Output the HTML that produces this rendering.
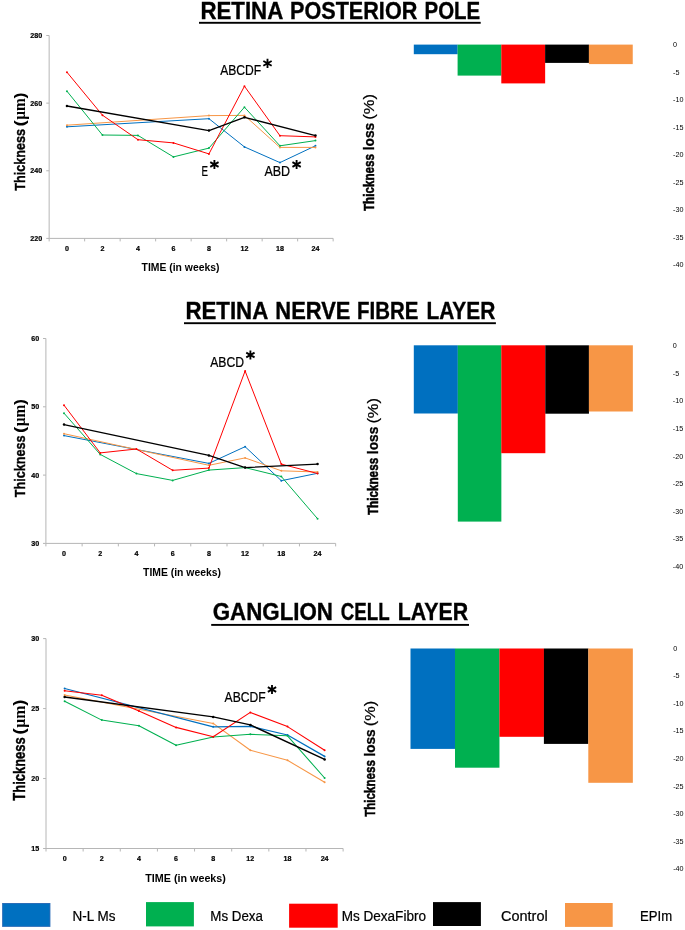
<!DOCTYPE html>
<html><head><meta charset="utf-8"><title>Retina thickness charts</title>
<style>
html,body{margin:0;padding:0;background:#fff;}
body{width:685px;height:930px;overflow:hidden;font-family:"Liberation Sans",sans-serif;}
svg{display:block;will-change:transform;}
</style></head><body>
<svg width="685" height="930" viewBox="0 0 685 930">
<rect width="685" height="930" fill="#ffffff"/>
<text x="200.4" y="19.0" font-family="Liberation Sans, sans-serif" font-size="23.8" font-weight="bold" text-anchor="start" fill="#000" textLength="82.9" lengthAdjust="spacingAndGlyphs" stroke="#000" stroke-width="0.35">RETINA</text>
<text x="290.0" y="19.0" font-family="Liberation Sans, sans-serif" font-size="23.8" font-weight="bold" text-anchor="start" fill="#000" textLength="127.3" lengthAdjust="spacingAndGlyphs" stroke="#000" stroke-width="0.35">POSTERIOR</text>
<text x="424.5" y="19.0" font-family="Liberation Sans, sans-serif" font-size="23.8" font-weight="bold" text-anchor="start" fill="#000" textLength="55.7" lengthAdjust="spacingAndGlyphs" stroke="#000" stroke-width="0.35">POLE</text>
<rect x="199" y="21.85" width="281.7" height="1.9" fill="#000"/>
<path d="M49.15 35.5V238.4H333.15" stroke="#b6b6b6" stroke-width="1" fill="none"/>
<path d="M46.25 35.50H49.15" stroke="#b6b6b6" stroke-width="1"/>
<text x="42.25" y="38.05" font-family="Liberation Sans, sans-serif" font-size="7.4" font-weight="bold" text-anchor="end" fill="#000" textLength="11.94" lengthAdjust="spacingAndGlyphs" stroke="#000" stroke-width="0.22">280</text>
<path d="M46.25 103.13H49.15" stroke="#b6b6b6" stroke-width="1"/>
<text x="42.25" y="105.68" font-family="Liberation Sans, sans-serif" font-size="7.4" font-weight="bold" text-anchor="end" fill="#000" textLength="11.94" lengthAdjust="spacingAndGlyphs" stroke="#000" stroke-width="0.22">260</text>
<path d="M46.25 170.77H49.15" stroke="#b6b6b6" stroke-width="1"/>
<text x="42.25" y="173.32" font-family="Liberation Sans, sans-serif" font-size="7.4" font-weight="bold" text-anchor="end" fill="#000" textLength="11.94" lengthAdjust="spacingAndGlyphs" stroke="#000" stroke-width="0.22">240</text>
<path d="M46.25 238.40H49.15" stroke="#b6b6b6" stroke-width="1"/>
<text x="42.25" y="240.95" font-family="Liberation Sans, sans-serif" font-size="7.4" font-weight="bold" text-anchor="end" fill="#000" textLength="11.94" lengthAdjust="spacingAndGlyphs" stroke="#000" stroke-width="0.22">220</text>
<path d="M49.15 238.4V241.4" stroke="#b6b6b6" stroke-width="1"/>
<path d="M84.65 238.4V241.4" stroke="#b6b6b6" stroke-width="1"/>
<path d="M120.15 238.4V241.4" stroke="#b6b6b6" stroke-width="1"/>
<path d="M155.65 238.4V241.4" stroke="#b6b6b6" stroke-width="1"/>
<path d="M191.15 238.4V241.4" stroke="#b6b6b6" stroke-width="1"/>
<path d="M226.65 238.4V241.4" stroke="#b6b6b6" stroke-width="1"/>
<path d="M262.15 238.4V241.4" stroke="#b6b6b6" stroke-width="1"/>
<path d="M297.65 238.4V241.4" stroke="#b6b6b6" stroke-width="1"/>
<path d="M333.15 238.4V241.4" stroke="#b6b6b6" stroke-width="1"/>
<text x="66.95" y="250.95" font-family="Liberation Sans, sans-serif" font-size="7.4" font-weight="bold" text-anchor="middle" fill="#000" textLength="3.98" lengthAdjust="spacingAndGlyphs" stroke="#000" stroke-width="0.22">0</text>
<text x="102.45" y="250.95" font-family="Liberation Sans, sans-serif" font-size="7.4" font-weight="bold" text-anchor="middle" fill="#000" textLength="3.98" lengthAdjust="spacingAndGlyphs" stroke="#000" stroke-width="0.22">2</text>
<text x="137.95" y="250.95" font-family="Liberation Sans, sans-serif" font-size="7.4" font-weight="bold" text-anchor="middle" fill="#000" textLength="3.98" lengthAdjust="spacingAndGlyphs" stroke="#000" stroke-width="0.22">4</text>
<text x="173.45" y="250.95" font-family="Liberation Sans, sans-serif" font-size="7.4" font-weight="bold" text-anchor="middle" fill="#000" textLength="3.98" lengthAdjust="spacingAndGlyphs" stroke="#000" stroke-width="0.22">6</text>
<text x="208.95" y="250.95" font-family="Liberation Sans, sans-serif" font-size="7.4" font-weight="bold" text-anchor="middle" fill="#000" textLength="3.98" lengthAdjust="spacingAndGlyphs" stroke="#000" stroke-width="0.22">8</text>
<text x="244.45" y="250.95" font-family="Liberation Sans, sans-serif" font-size="7.4" font-weight="bold" text-anchor="middle" fill="#000" textLength="7.96" lengthAdjust="spacingAndGlyphs" stroke="#000" stroke-width="0.22">12</text>
<text x="279.95" y="250.95" font-family="Liberation Sans, sans-serif" font-size="7.4" font-weight="bold" text-anchor="middle" fill="#000" textLength="7.96" lengthAdjust="spacingAndGlyphs" stroke="#000" stroke-width="0.22">18</text>
<text x="315.45" y="250.95" font-family="Liberation Sans, sans-serif" font-size="7.4" font-weight="bold" text-anchor="middle" fill="#000" textLength="7.96" lengthAdjust="spacingAndGlyphs" stroke="#000" stroke-width="0.22">24</text>
<text x="141.6" y="270.6" font-family="Liberation Sans, sans-serif" font-size="10.7" font-weight="bold" text-anchor="start" fill="#000" textLength="77.9" lengthAdjust="spacingAndGlyphs">TIME (in weeks)</text>
<g transform="translate(24.9 190.3) rotate(-90)" font-weight="bold" font-size="15.38">
<text x="-0.40" y="0" font-family="Liberation Sans, sans-serif" stroke="#000" stroke-width="0.4" textLength="61.64" lengthAdjust="spacingAndGlyphs">Thickness</text>
<text x="63.83" y="0" font-family="Liberation Sans, sans-serif" textLength="6.39" lengthAdjust="spacingAndGlyphs">(</text>
<text x="70.53" y="0" font-family="Liberation Serif, serif" font-size="16.15" textLength="21.58" lengthAdjust="spacingAndGlyphs">µm</text>
<text x="91.91" y="0" font-family="Liberation Sans, sans-serif" textLength="5.99" lengthAdjust="spacingAndGlyphs">)</text>
</g>
<path d="M66.95 126.8L208.95 118.7L244.45 146.9L279.95 162.6L315.45 145.8" stroke="#0070C0" stroke-width="1.0" fill="none" stroke-linejoin="round"/>
<circle cx="66.95" cy="126.8" r="1.0" fill="#0070C0"/>
<circle cx="208.95" cy="118.7" r="1.0" fill="#0070C0"/>
<circle cx="244.45" cy="146.9" r="1.0" fill="#0070C0"/>
<circle cx="279.95" cy="162.6" r="1.0" fill="#0070C0"/>
<circle cx="315.45" cy="145.8" r="1.0" fill="#0070C0"/>
<path d="M66.95 125.2L208.95 115.6L244.45 115.4L279.95 147.4L315.45 147.4" stroke="#F79646" stroke-width="1.0" fill="none" stroke-linejoin="round"/>
<circle cx="66.95" cy="125.2" r="1.0" fill="#F79646"/>
<circle cx="208.95" cy="115.6" r="1.0" fill="#F79646"/>
<circle cx="244.45" cy="115.4" r="1.0" fill="#F79646"/>
<circle cx="279.95" cy="147.4" r="1.0" fill="#F79646"/>
<circle cx="315.45" cy="147.4" r="1.0" fill="#F79646"/>
<path d="M66.95 91.2L102.45 135.0L137.95 135.4L173.45 156.9L208.95 148.1L244.45 107.2L279.95 145.8L315.45 140.6" stroke="#00B050" stroke-width="1.0" fill="none" stroke-linejoin="round"/>
<circle cx="66.95" cy="91.2" r="1.0" fill="#00B050"/>
<circle cx="102.45" cy="135.0" r="1.0" fill="#00B050"/>
<circle cx="137.95" cy="135.4" r="1.0" fill="#00B050"/>
<circle cx="173.45" cy="156.9" r="1.0" fill="#00B050"/>
<circle cx="208.95" cy="148.1" r="1.0" fill="#00B050"/>
<circle cx="244.45" cy="107.2" r="1.0" fill="#00B050"/>
<circle cx="279.95" cy="145.8" r="1.0" fill="#00B050"/>
<circle cx="315.45" cy="140.6" r="1.0" fill="#00B050"/>
<path d="M66.95 72.2L102.45 115.2L137.95 139.7L173.45 142.9L208.95 153.9L244.45 86.2L279.95 135.7L315.45 136.9" stroke="#FF0000" stroke-width="1.0" fill="none" stroke-linejoin="round"/>
<circle cx="66.95" cy="72.2" r="1.0" fill="#FF0000"/>
<circle cx="102.45" cy="115.2" r="1.0" fill="#FF0000"/>
<circle cx="137.95" cy="139.7" r="1.0" fill="#FF0000"/>
<circle cx="173.45" cy="142.9" r="1.0" fill="#FF0000"/>
<circle cx="208.95" cy="153.9" r="1.0" fill="#FF0000"/>
<circle cx="244.45" cy="86.2" r="1.0" fill="#FF0000"/>
<circle cx="279.95" cy="135.7" r="1.0" fill="#FF0000"/>
<circle cx="315.45" cy="136.9" r="1.0" fill="#FF0000"/>
<path d="M66.95 106.0L208.95 130.6L244.45 117.3L315.45 135.6" stroke="#000000" stroke-width="1.3" fill="none" stroke-linejoin="round"/>
<circle cx="66.95" cy="106.0" r="1.25" fill="#000000"/>
<circle cx="208.95" cy="130.6" r="1.25" fill="#000000"/>
<circle cx="244.45" cy="117.3" r="1.25" fill="#000000"/>
<circle cx="315.45" cy="135.6" r="1.25" fill="#000000"/>
<text x="220.2" y="74.9" font-family="Liberation Sans, sans-serif" font-size="13.8" font-weight="normal" text-anchor="start" fill="#000" textLength="41.0" lengthAdjust="spacingAndGlyphs" stroke="#000" stroke-width="0.22">ABCDF</text>
<path d="M267.50 58.85L267.50 67.95M263.34 61.00L271.66 65.80M271.66 61.00L263.34 65.80" stroke="#000" stroke-width="1.85" fill="none" stroke-linecap="butt"/>
<text x="201.5" y="175.9" font-family="Liberation Sans, sans-serif" font-size="13.8" font-weight="normal" text-anchor="start" fill="#000" textLength="6.5" lengthAdjust="spacingAndGlyphs" stroke="#000" stroke-width="0.22">E</text>
<path d="M214.40 159.95L214.40 169.05M210.24 162.10L218.56 166.90M218.56 162.10L210.24 166.90" stroke="#000" stroke-width="1.85" fill="none" stroke-linecap="butt"/>
<text x="264.4" y="175.9" font-family="Liberation Sans, sans-serif" font-size="13.8" font-weight="normal" text-anchor="start" fill="#000" textLength="25.7" lengthAdjust="spacingAndGlyphs" stroke="#000" stroke-width="0.22">ABD</text>
<path d="M296.60 159.95L296.60 169.05M292.44 162.10L300.76 166.90M300.76 162.10L292.44 166.90" stroke="#000" stroke-width="1.85" fill="none" stroke-linecap="butt"/>
<rect x="413.8" y="44.6" width="43.85" height="9.6" fill="#0070C0"/>
<rect x="457.6" y="44.6" width="43.75" height="31.0" fill="#00B050"/>
<rect x="501.3" y="44.6" width="43.85" height="38.8" fill="#FF0000"/>
<rect x="545.1" y="44.6" width="43.85" height="18.3" fill="#000000"/>
<rect x="588.9" y="44.6" width="43.85" height="19.5" fill="#F79646"/>
<text x="673" y="47.0" font-family="Liberation Sans, sans-serif" font-size="7.2" font-weight="normal" text-anchor="start" fill="#000">0</text>
<text x="673" y="74.52" font-family="Liberation Sans, sans-serif" font-size="7.2" font-weight="normal" text-anchor="start" fill="#000">-5</text>
<text x="673" y="102.04" font-family="Liberation Sans, sans-serif" font-size="7.2" font-weight="normal" text-anchor="start" fill="#000">-10</text>
<text x="673" y="129.56" font-family="Liberation Sans, sans-serif" font-size="7.2" font-weight="normal" text-anchor="start" fill="#000">-15</text>
<text x="673" y="157.08" font-family="Liberation Sans, sans-serif" font-size="7.2" font-weight="normal" text-anchor="start" fill="#000">-20</text>
<text x="673" y="184.6" font-family="Liberation Sans, sans-serif" font-size="7.2" font-weight="normal" text-anchor="start" fill="#000">-25</text>
<text x="673" y="212.12" font-family="Liberation Sans, sans-serif" font-size="7.2" font-weight="normal" text-anchor="start" fill="#000">-30</text>
<text x="673" y="239.64" font-family="Liberation Sans, sans-serif" font-size="7.2" font-weight="normal" text-anchor="start" fill="#000">-35</text>
<text x="673" y="267.16" font-family="Liberation Sans, sans-serif" font-size="7.2" font-weight="normal" text-anchor="start" fill="#000">-40</text>
<g transform="translate(374.0 210.7) rotate(-90)" font-family="Liberation Sans, sans-serif" font-size="14.2">
<text x="-0.40" y="0" font-weight="bold" stroke="#000" stroke-width="0.5" textLength="57.20" lengthAdjust="spacingAndGlyphs">Thickness</text>
<text x="60.50" y="0" font-weight="bold" stroke="#000" stroke-width="0.3" textLength="27.40" lengthAdjust="spacingAndGlyphs">loss</text>
<text x="91.00" y="0" stroke="#000" stroke-width="0.2" textLength="25.60" lengthAdjust="spacingAndGlyphs">(%)</text>
</g>
<text x="185.4" y="318.8" font-family="Liberation Sans, sans-serif" font-size="23.8" font-weight="bold" text-anchor="start" fill="#000" textLength="82.9" lengthAdjust="spacingAndGlyphs" stroke="#000" stroke-width="0.35">RETINA</text>
<text x="275.29999999999995" y="318.8" font-family="Liberation Sans, sans-serif" font-size="23.8" font-weight="bold" text-anchor="start" fill="#000" textLength="75.2" lengthAdjust="spacingAndGlyphs" stroke="#000" stroke-width="0.35">NERVE</text>
<text x="357.0" y="318.8" font-family="Liberation Sans, sans-serif" font-size="23.8" font-weight="bold" text-anchor="start" fill="#000" textLength="61.3" lengthAdjust="spacingAndGlyphs" stroke="#000" stroke-width="0.35">FIBRE</text>
<text x="426.4" y="318.8" font-family="Liberation Sans, sans-serif" font-size="23.8" font-weight="bold" text-anchor="start" fill="#000" textLength="68.9" lengthAdjust="spacingAndGlyphs" stroke="#000" stroke-width="0.35">LAYER</text>
<rect x="184" y="322.25" width="311.9" height="1.9" fill="#000"/>
<path d="M45.9 338.5V543.4H335.65999999999997" stroke="#b6b6b6" stroke-width="1" fill="none"/>
<path d="M43.0 338.50H45.9" stroke="#b6b6b6" stroke-width="1"/>
<text x="39.2" y="341.05" font-family="Liberation Sans, sans-serif" font-size="7.4" font-weight="bold" text-anchor="end" fill="#000" textLength="7.96" lengthAdjust="spacingAndGlyphs" stroke="#000" stroke-width="0.22">60</text>
<path d="M43.0 406.80H45.9" stroke="#b6b6b6" stroke-width="1"/>
<text x="39.2" y="409.35" font-family="Liberation Sans, sans-serif" font-size="7.4" font-weight="bold" text-anchor="end" fill="#000" textLength="7.96" lengthAdjust="spacingAndGlyphs" stroke="#000" stroke-width="0.22">50</text>
<path d="M43.0 475.10H45.9" stroke="#b6b6b6" stroke-width="1"/>
<text x="39.2" y="477.65" font-family="Liberation Sans, sans-serif" font-size="7.4" font-weight="bold" text-anchor="end" fill="#000" textLength="7.96" lengthAdjust="spacingAndGlyphs" stroke="#000" stroke-width="0.22">40</text>
<path d="M43.0 543.40H45.9" stroke="#b6b6b6" stroke-width="1"/>
<text x="39.2" y="545.95" font-family="Liberation Sans, sans-serif" font-size="7.4" font-weight="bold" text-anchor="end" fill="#000" textLength="7.96" lengthAdjust="spacingAndGlyphs" stroke="#000" stroke-width="0.22">30</text>
<path d="M45.90 543.4V546.4" stroke="#b6b6b6" stroke-width="1"/>
<path d="M82.12 543.4V546.4" stroke="#b6b6b6" stroke-width="1"/>
<path d="M118.34 543.4V546.4" stroke="#b6b6b6" stroke-width="1"/>
<path d="M154.56 543.4V546.4" stroke="#b6b6b6" stroke-width="1"/>
<path d="M190.78 543.4V546.4" stroke="#b6b6b6" stroke-width="1"/>
<path d="M227.00 543.4V546.4" stroke="#b6b6b6" stroke-width="1"/>
<path d="M263.22 543.4V546.4" stroke="#b6b6b6" stroke-width="1"/>
<path d="M299.44 543.4V546.4" stroke="#b6b6b6" stroke-width="1"/>
<path d="M335.66 543.4V546.4" stroke="#b6b6b6" stroke-width="1"/>
<text x="64.0" y="555.75" font-family="Liberation Sans, sans-serif" font-size="7.4" font-weight="bold" text-anchor="middle" fill="#000" textLength="3.98" lengthAdjust="spacingAndGlyphs" stroke="#000" stroke-width="0.22">0</text>
<text x="100.22" y="555.75" font-family="Liberation Sans, sans-serif" font-size="7.4" font-weight="bold" text-anchor="middle" fill="#000" textLength="3.98" lengthAdjust="spacingAndGlyphs" stroke="#000" stroke-width="0.22">2</text>
<text x="136.44" y="555.75" font-family="Liberation Sans, sans-serif" font-size="7.4" font-weight="bold" text-anchor="middle" fill="#000" textLength="3.98" lengthAdjust="spacingAndGlyphs" stroke="#000" stroke-width="0.22">4</text>
<text x="172.66" y="555.75" font-family="Liberation Sans, sans-serif" font-size="7.4" font-weight="bold" text-anchor="middle" fill="#000" textLength="3.98" lengthAdjust="spacingAndGlyphs" stroke="#000" stroke-width="0.22">6</text>
<text x="208.88" y="555.75" font-family="Liberation Sans, sans-serif" font-size="7.4" font-weight="bold" text-anchor="middle" fill="#000" textLength="3.98" lengthAdjust="spacingAndGlyphs" stroke="#000" stroke-width="0.22">8</text>
<text x="245.1" y="555.75" font-family="Liberation Sans, sans-serif" font-size="7.4" font-weight="bold" text-anchor="middle" fill="#000" textLength="7.96" lengthAdjust="spacingAndGlyphs" stroke="#000" stroke-width="0.22">12</text>
<text x="281.32" y="555.75" font-family="Liberation Sans, sans-serif" font-size="7.4" font-weight="bold" text-anchor="middle" fill="#000" textLength="7.96" lengthAdjust="spacingAndGlyphs" stroke="#000" stroke-width="0.22">18</text>
<text x="317.54" y="555.75" font-family="Liberation Sans, sans-serif" font-size="7.4" font-weight="bold" text-anchor="middle" fill="#000" textLength="7.96" lengthAdjust="spacingAndGlyphs" stroke="#000" stroke-width="0.22">24</text>
<text x="143.1" y="576.2" font-family="Liberation Sans, sans-serif" font-size="10.7" font-weight="bold" text-anchor="start" fill="#000" textLength="77.9" lengthAdjust="spacingAndGlyphs">TIME (in weeks)</text>
<g transform="translate(25.2 496.8) rotate(-90)" font-weight="bold" font-size="15.38">
<text x="-0.40" y="0" font-family="Liberation Sans, sans-serif" stroke="#000" stroke-width="0.4" textLength="61.64" lengthAdjust="spacingAndGlyphs">Thickness</text>
<text x="63.83" y="0" font-family="Liberation Sans, sans-serif" textLength="6.39" lengthAdjust="spacingAndGlyphs">(</text>
<text x="70.53" y="0" font-family="Liberation Serif, serif" font-size="16.15" textLength="21.58" lengthAdjust="spacingAndGlyphs">µm</text>
<text x="91.91" y="0" font-family="Liberation Sans, sans-serif" textLength="5.99" lengthAdjust="spacingAndGlyphs">)</text>
</g>
<path d="M64.00 435.6L208.88 463.4L245.10 446.7L281.32 480.7L317.54 473.3" stroke="#0070C0" stroke-width="1.0" fill="none" stroke-linejoin="round"/>
<circle cx="64.00" cy="435.6" r="1.0" fill="#0070C0"/>
<circle cx="208.88" cy="463.4" r="1.0" fill="#0070C0"/>
<circle cx="245.10" cy="446.7" r="1.0" fill="#0070C0"/>
<circle cx="281.32" cy="480.7" r="1.0" fill="#0070C0"/>
<circle cx="317.54" cy="473.3" r="1.0" fill="#0070C0"/>
<path d="M64.00 433.7L208.88 465.3L245.10 457.9L281.32 470.8L317.54 472.0" stroke="#F79646" stroke-width="1.0" fill="none" stroke-linejoin="round"/>
<circle cx="64.00" cy="433.7" r="1.0" fill="#F79646"/>
<circle cx="208.88" cy="465.3" r="1.0" fill="#F79646"/>
<circle cx="245.10" cy="457.9" r="1.0" fill="#F79646"/>
<circle cx="281.32" cy="470.8" r="1.0" fill="#F79646"/>
<circle cx="317.54" cy="472.0" r="1.0" fill="#F79646"/>
<path d="M64.00 413.2L100.22 454.4L136.44 473.6L172.66 480.4L208.88 470.1L245.10 467.6L281.32 476.5L317.54 518.7" stroke="#00B050" stroke-width="1.0" fill="none" stroke-linejoin="round"/>
<circle cx="64.00" cy="413.2" r="1.0" fill="#00B050"/>
<circle cx="100.22" cy="454.4" r="1.0" fill="#00B050"/>
<circle cx="136.44" cy="473.6" r="1.0" fill="#00B050"/>
<circle cx="172.66" cy="480.4" r="1.0" fill="#00B050"/>
<circle cx="208.88" cy="470.1" r="1.0" fill="#00B050"/>
<circle cx="245.10" cy="467.6" r="1.0" fill="#00B050"/>
<circle cx="281.32" cy="476.5" r="1.0" fill="#00B050"/>
<circle cx="317.54" cy="518.7" r="1.0" fill="#00B050"/>
<path d="M64.00 405.2L100.22 452.9L136.44 449.0L172.66 470.3L208.88 468.1L245.10 371.0L281.32 464.1L317.54 473.5" stroke="#FF0000" stroke-width="1.0" fill="none" stroke-linejoin="round"/>
<circle cx="64.00" cy="405.2" r="1.0" fill="#FF0000"/>
<circle cx="100.22" cy="452.9" r="1.0" fill="#FF0000"/>
<circle cx="136.44" cy="449.0" r="1.0" fill="#FF0000"/>
<circle cx="172.66" cy="470.3" r="1.0" fill="#FF0000"/>
<circle cx="208.88" cy="468.1" r="1.0" fill="#FF0000"/>
<circle cx="245.10" cy="371.0" r="1.0" fill="#FF0000"/>
<circle cx="281.32" cy="464.1" r="1.0" fill="#FF0000"/>
<circle cx="317.54" cy="473.5" r="1.0" fill="#FF0000"/>
<path d="M64.00 424.6L208.88 455.4L245.10 467.6L317.54 464.1" stroke="#000000" stroke-width="1.3" fill="none" stroke-linejoin="round"/>
<circle cx="64.00" cy="424.6" r="1.25" fill="#000000"/>
<circle cx="208.88" cy="455.4" r="1.25" fill="#000000"/>
<circle cx="245.10" cy="467.6" r="1.25" fill="#000000"/>
<circle cx="317.54" cy="464.1" r="1.25" fill="#000000"/>
<text x="210.2" y="366.8" font-family="Liberation Sans, sans-serif" font-size="13.8" font-weight="normal" text-anchor="start" fill="#000" textLength="33.8" lengthAdjust="spacingAndGlyphs" stroke="#000" stroke-width="0.22">ABCD</text>
<path d="M250.40 350.45L250.40 359.55M246.24 352.60L254.56 357.40M254.56 352.60L246.24 357.40" stroke="#000" stroke-width="1.85" fill="none" stroke-linecap="butt"/>
<rect x="413.8" y="345.3" width="44.05" height="68.2" fill="#0070C0"/>
<rect x="457.8" y="345.3" width="43.55" height="176.3" fill="#00B050"/>
<rect x="501.3" y="345.3" width="44.05" height="107.9" fill="#FF0000"/>
<rect x="545.3" y="345.3" width="43.65" height="68.4" fill="#000000"/>
<rect x="588.9" y="345.3" width="43.95" height="66.2" fill="#F79646"/>
<text x="672.8" y="348.0" font-family="Liberation Sans, sans-serif" font-size="7.2" font-weight="normal" text-anchor="start" fill="#000">0</text>
<text x="672.8" y="375.64" font-family="Liberation Sans, sans-serif" font-size="7.2" font-weight="normal" text-anchor="start" fill="#000">-5</text>
<text x="672.8" y="403.28" font-family="Liberation Sans, sans-serif" font-size="7.2" font-weight="normal" text-anchor="start" fill="#000">-10</text>
<text x="672.8" y="430.92" font-family="Liberation Sans, sans-serif" font-size="7.2" font-weight="normal" text-anchor="start" fill="#000">-15</text>
<text x="672.8" y="458.56" font-family="Liberation Sans, sans-serif" font-size="7.2" font-weight="normal" text-anchor="start" fill="#000">-20</text>
<text x="672.8" y="486.2" font-family="Liberation Sans, sans-serif" font-size="7.2" font-weight="normal" text-anchor="start" fill="#000">-25</text>
<text x="672.8" y="513.84" font-family="Liberation Sans, sans-serif" font-size="7.2" font-weight="normal" text-anchor="start" fill="#000">-30</text>
<text x="672.8" y="541.48" font-family="Liberation Sans, sans-serif" font-size="7.2" font-weight="normal" text-anchor="start" fill="#000">-35</text>
<text x="672.8" y="569.12" font-family="Liberation Sans, sans-serif" font-size="7.2" font-weight="normal" text-anchor="start" fill="#000">-40</text>
<g transform="translate(378.0 514.7) rotate(-90)" font-family="Liberation Sans, sans-serif" font-size="14.21">
<text x="-0.40" y="0" font-weight="bold" stroke="#000" stroke-width="0.5" textLength="57.25" lengthAdjust="spacingAndGlyphs">Thickness</text>
<text x="60.55" y="0" font-weight="bold" stroke="#000" stroke-width="0.3" textLength="27.42" lengthAdjust="spacingAndGlyphs">loss</text>
<text x="91.08" y="0" stroke="#000" stroke-width="0.2" textLength="25.62" lengthAdjust="spacingAndGlyphs">(%)</text>
</g>
<text x="212.70000000000002" y="620.1" font-family="Liberation Sans, sans-serif" font-size="23.8" font-weight="bold" text-anchor="start" fill="#000" textLength="120.3" lengthAdjust="spacingAndGlyphs" stroke="#000" stroke-width="0.35">GANGLION</text>
<text x="340.79999999999995" y="620.1" font-family="Liberation Sans, sans-serif" font-size="23.8" font-weight="bold" text-anchor="start" fill="#000" textLength="48.9" lengthAdjust="spacingAndGlyphs" stroke="#000" stroke-width="0.35">CELL</text>
<text x="397.7" y="620.1" font-family="Liberation Sans, sans-serif" font-size="23.8" font-weight="bold" text-anchor="start" fill="#000" textLength="70.4" lengthAdjust="spacingAndGlyphs" stroke="#000" stroke-width="0.35">LAYER</text>
<rect x="211.2" y="623.9499999999999" width="257.8" height="1.9" fill="#000"/>
<path d="M46.0 638.6V848.5H343.12" stroke="#b6b6b6" stroke-width="1" fill="none"/>
<path d="M43.1 638.60H46.0" stroke="#b6b6b6" stroke-width="1"/>
<text x="39.2" y="641.15" font-family="Liberation Sans, sans-serif" font-size="7.4" font-weight="bold" text-anchor="end" fill="#000" textLength="7.96" lengthAdjust="spacingAndGlyphs" stroke="#000" stroke-width="0.22">30</text>
<path d="M43.1 708.57H46.0" stroke="#b6b6b6" stroke-width="1"/>
<text x="39.2" y="711.12" font-family="Liberation Sans, sans-serif" font-size="7.4" font-weight="bold" text-anchor="end" fill="#000" textLength="7.96" lengthAdjust="spacingAndGlyphs" stroke="#000" stroke-width="0.22">25</text>
<path d="M43.1 778.53H46.0" stroke="#b6b6b6" stroke-width="1"/>
<text x="39.2" y="781.08" font-family="Liberation Sans, sans-serif" font-size="7.4" font-weight="bold" text-anchor="end" fill="#000" textLength="7.96" lengthAdjust="spacingAndGlyphs" stroke="#000" stroke-width="0.22">20</text>
<path d="M43.1 848.50H46.0" stroke="#b6b6b6" stroke-width="1"/>
<text x="39.2" y="851.05" font-family="Liberation Sans, sans-serif" font-size="7.4" font-weight="bold" text-anchor="end" fill="#000" textLength="7.96" lengthAdjust="spacingAndGlyphs" stroke="#000" stroke-width="0.22">15</text>
<path d="M46.00 848.5V851.5" stroke="#b6b6b6" stroke-width="1"/>
<path d="M83.14 848.5V851.5" stroke="#b6b6b6" stroke-width="1"/>
<path d="M120.28 848.5V851.5" stroke="#b6b6b6" stroke-width="1"/>
<path d="M157.42 848.5V851.5" stroke="#b6b6b6" stroke-width="1"/>
<path d="M194.56 848.5V851.5" stroke="#b6b6b6" stroke-width="1"/>
<path d="M231.70 848.5V851.5" stroke="#b6b6b6" stroke-width="1"/>
<path d="M268.84 848.5V851.5" stroke="#b6b6b6" stroke-width="1"/>
<path d="M305.98 848.5V851.5" stroke="#b6b6b6" stroke-width="1"/>
<path d="M343.12 848.5V851.5" stroke="#b6b6b6" stroke-width="1"/>
<text x="64.65" y="861.25" font-family="Liberation Sans, sans-serif" font-size="7.4" font-weight="bold" text-anchor="middle" fill="#000" textLength="3.98" lengthAdjust="spacingAndGlyphs" stroke="#000" stroke-width="0.22">0</text>
<text x="101.79" y="861.25" font-family="Liberation Sans, sans-serif" font-size="7.4" font-weight="bold" text-anchor="middle" fill="#000" textLength="3.98" lengthAdjust="spacingAndGlyphs" stroke="#000" stroke-width="0.22">2</text>
<text x="138.93" y="861.25" font-family="Liberation Sans, sans-serif" font-size="7.4" font-weight="bold" text-anchor="middle" fill="#000" textLength="3.98" lengthAdjust="spacingAndGlyphs" stroke="#000" stroke-width="0.22">4</text>
<text x="176.07" y="861.25" font-family="Liberation Sans, sans-serif" font-size="7.4" font-weight="bold" text-anchor="middle" fill="#000" textLength="3.98" lengthAdjust="spacingAndGlyphs" stroke="#000" stroke-width="0.22">6</text>
<text x="213.21" y="861.25" font-family="Liberation Sans, sans-serif" font-size="7.4" font-weight="bold" text-anchor="middle" fill="#000" textLength="3.98" lengthAdjust="spacingAndGlyphs" stroke="#000" stroke-width="0.22">8</text>
<text x="250.35" y="861.25" font-family="Liberation Sans, sans-serif" font-size="7.4" font-weight="bold" text-anchor="middle" fill="#000" textLength="7.96" lengthAdjust="spacingAndGlyphs" stroke="#000" stroke-width="0.22">12</text>
<text x="287.49" y="861.25" font-family="Liberation Sans, sans-serif" font-size="7.4" font-weight="bold" text-anchor="middle" fill="#000" textLength="7.96" lengthAdjust="spacingAndGlyphs" stroke="#000" stroke-width="0.22">18</text>
<text x="324.63" y="861.25" font-family="Liberation Sans, sans-serif" font-size="7.4" font-weight="bold" text-anchor="middle" fill="#000" textLength="7.96" lengthAdjust="spacingAndGlyphs" stroke="#000" stroke-width="0.22">24</text>
<text x="145.3" y="882.0" font-family="Liberation Sans, sans-serif" font-size="10.7" font-weight="bold" text-anchor="start" fill="#000" textLength="80.6" lengthAdjust="spacingAndGlyphs">TIME (in weeks)</text>
<g transform="translate(24.9 800.3) rotate(-90)" font-weight="bold" font-size="15.83">
<text x="-0.41" y="0" font-family="Liberation Sans, sans-serif" stroke="#000" stroke-width="0.4" textLength="63.41" lengthAdjust="spacingAndGlyphs">Thickness</text>
<text x="65.67" y="0" font-family="Liberation Sans, sans-serif" textLength="6.58" lengthAdjust="spacingAndGlyphs">(</text>
<text x="72.56" y="0" font-family="Liberation Serif, serif" font-size="16.62" textLength="22.20" lengthAdjust="spacingAndGlyphs">µm</text>
<text x="94.55" y="0" font-family="Liberation Sans, sans-serif" textLength="6.17" lengthAdjust="spacingAndGlyphs">)</text>
</g>
<path d="M64.65 695.0L213.21 723.4L250.35 750.2L287.49 760.3L324.63 782.2" stroke="#F79646" stroke-width="1.05" fill="none" stroke-linejoin="round"/>
<circle cx="64.65" cy="695.0" r="1.0" fill="#F79646"/>
<circle cx="213.21" cy="723.4" r="1.0" fill="#F79646"/>
<circle cx="250.35" cy="750.2" r="1.0" fill="#F79646"/>
<circle cx="287.49" cy="760.3" r="1.0" fill="#F79646"/>
<circle cx="324.63" cy="782.2" r="1.0" fill="#F79646"/>
<path d="M64.65 688.5L213.21 726.8L250.35 726.3L287.49 735.0L324.63 756.4" stroke="#0070C0" stroke-width="1.25" fill="none" stroke-linejoin="round"/>
<circle cx="64.65" cy="688.5" r="1.0" fill="#0070C0"/>
<circle cx="213.21" cy="726.8" r="1.0" fill="#0070C0"/>
<circle cx="250.35" cy="726.3" r="1.0" fill="#0070C0"/>
<circle cx="287.49" cy="735.0" r="1.0" fill="#0070C0"/>
<circle cx="324.63" cy="756.4" r="1.0" fill="#0070C0"/>
<path d="M64.65 701.2L101.79 720.1L138.93 725.8L176.07 745.3L213.21 737.0L250.35 734.3L287.49 735.8L324.63 778.0" stroke="#00B050" stroke-width="1.05" fill="none" stroke-linejoin="round"/>
<circle cx="64.65" cy="701.2" r="1.0" fill="#00B050"/>
<circle cx="101.79" cy="720.1" r="1.0" fill="#00B050"/>
<circle cx="138.93" cy="725.8" r="1.0" fill="#00B050"/>
<circle cx="176.07" cy="745.3" r="1.0" fill="#00B050"/>
<circle cx="213.21" cy="737.0" r="1.0" fill="#00B050"/>
<circle cx="250.35" cy="734.3" r="1.0" fill="#00B050"/>
<circle cx="287.49" cy="735.8" r="1.0" fill="#00B050"/>
<circle cx="324.63" cy="778.0" r="1.0" fill="#00B050"/>
<path d="M64.65 690.8L101.79 695.2L138.93 710.9L176.07 727.4L213.21 736.8L250.35 712.4L287.49 726.6L324.63 750.2" stroke="#FF0000" stroke-width="1.1" fill="none" stroke-linejoin="round"/>
<circle cx="64.65" cy="690.8" r="1.0" fill="#FF0000"/>
<circle cx="101.79" cy="695.2" r="1.0" fill="#FF0000"/>
<circle cx="138.93" cy="710.9" r="1.0" fill="#FF0000"/>
<circle cx="176.07" cy="727.4" r="1.0" fill="#FF0000"/>
<circle cx="213.21" cy="736.8" r="1.0" fill="#FF0000"/>
<circle cx="250.35" cy="712.4" r="1.0" fill="#FF0000"/>
<circle cx="287.49" cy="726.6" r="1.0" fill="#FF0000"/>
<circle cx="324.63" cy="750.2" r="1.0" fill="#FF0000"/>
<path d="M64.65 697.0L213.21 716.9L250.35 724.9L324.63 759.4" stroke="#000000" stroke-width="1.45" fill="none" stroke-linejoin="round"/>
<circle cx="64.65" cy="697.0" r="1.25" fill="#000000"/>
<circle cx="213.21" cy="716.9" r="1.25" fill="#000000"/>
<circle cx="250.35" cy="724.9" r="1.25" fill="#000000"/>
<circle cx="324.63" cy="759.4" r="1.25" fill="#000000"/>
<text x="224.6" y="701.5" font-family="Liberation Sans, sans-serif" font-size="13.8" font-weight="normal" text-anchor="start" fill="#000" textLength="41.0" lengthAdjust="spacingAndGlyphs" stroke="#000" stroke-width="0.22">ABCDF</text>
<path d="M272.00 684.95L272.00 694.05M267.84 687.10L276.16 691.90M276.16 687.10L267.84 691.90" stroke="#000" stroke-width="1.85" fill="none" stroke-linecap="butt"/>
<rect x="410.5" y="648.5" width="44.55" height="100.4" fill="#0070C0"/>
<rect x="455.0" y="648.5" width="44.45" height="119.2" fill="#00B050"/>
<rect x="499.4" y="648.5" width="44.55" height="88.3" fill="#FF0000"/>
<rect x="543.9" y="648.5" width="44.45" height="95.4" fill="#000000"/>
<rect x="588.3" y="648.5" width="44.55" height="134.3" fill="#F79646"/>
<text x="673.2" y="650.9" font-family="Liberation Sans, sans-serif" font-size="7.2" font-weight="normal" text-anchor="start" fill="#000">0</text>
<text x="673.2" y="678.42" font-family="Liberation Sans, sans-serif" font-size="7.2" font-weight="normal" text-anchor="start" fill="#000">-5</text>
<text x="673.2" y="705.94" font-family="Liberation Sans, sans-serif" font-size="7.2" font-weight="normal" text-anchor="start" fill="#000">-10</text>
<text x="673.2" y="733.46" font-family="Liberation Sans, sans-serif" font-size="7.2" font-weight="normal" text-anchor="start" fill="#000">-15</text>
<text x="673.2" y="760.98" font-family="Liberation Sans, sans-serif" font-size="7.2" font-weight="normal" text-anchor="start" fill="#000">-20</text>
<text x="673.2" y="788.5" font-family="Liberation Sans, sans-serif" font-size="7.2" font-weight="normal" text-anchor="start" fill="#000">-25</text>
<text x="673.2" y="816.02" font-family="Liberation Sans, sans-serif" font-size="7.2" font-weight="normal" text-anchor="start" fill="#000">-30</text>
<text x="673.2" y="843.54" font-family="Liberation Sans, sans-serif" font-size="7.2" font-weight="normal" text-anchor="start" fill="#000">-35</text>
<text x="673.2" y="871.06" font-family="Liberation Sans, sans-serif" font-size="7.2" font-weight="normal" text-anchor="start" fill="#000">-40</text>
<g transform="translate(374.7 816.4) rotate(-90)" font-family="Liberation Sans, sans-serif" font-size="14.06">
<text x="-0.40" y="0" font-weight="bold" stroke="#000" stroke-width="0.5" textLength="56.65" lengthAdjust="spacingAndGlyphs">Thickness</text>
<text x="59.92" y="0" font-weight="bold" stroke="#000" stroke-width="0.3" textLength="27.14" lengthAdjust="spacingAndGlyphs">loss</text>
<text x="90.13" y="0" stroke="#000" stroke-width="0.2" textLength="25.36" lengthAdjust="spacingAndGlyphs">(%)</text>
</g>
<rect x="2.1" y="903.0" width="48.3" height="23.9" fill="#2a6db8"/>
<rect x="3.1" y="904.0" width="46.3" height="21.9" fill="#0070C0"/>
<text x="72.5" y="920.9" font-family="Liberation Sans, sans-serif" font-size="13.8" font-weight="normal" text-anchor="start" fill="#000" textLength="42.9" lengthAdjust="spacingAndGlyphs" stroke="#000" stroke-width="0.22">N-L Ms</text>
<rect x="146" y="902.1" width="47.9" height="24.3" fill="#00B050"/>
<text x="210.3" y="921.3" font-family="Liberation Sans, sans-serif" font-size="13.8" font-weight="normal" text-anchor="start" fill="#000" textLength="52.6" lengthAdjust="spacingAndGlyphs" stroke="#000" stroke-width="0.22">Ms Dexa</text>
<rect x="289.1" y="903.7" width="48.6" height="24.0" fill="#FF0000"/>
<text x="341.7" y="921.3" font-family="Liberation Sans, sans-serif" font-size="13.8" font-weight="normal" text-anchor="start" fill="#000" textLength="84.3" lengthAdjust="spacingAndGlyphs" stroke="#000" stroke-width="0.22">Ms DexaFibro</text>
<rect x="433" y="902.1" width="47.9" height="23.9" fill="#000000"/>
<text x="501.1" y="921.3" font-family="Liberation Sans, sans-serif" font-size="13.8" font-weight="normal" text-anchor="start" fill="#000" textLength="46.6" lengthAdjust="spacingAndGlyphs" stroke="#000" stroke-width="0.22">Control</text>
<rect x="565" y="903.0" width="47.7" height="23.9" fill="#F79646"/>
<text x="640.0" y="921.1" font-family="Liberation Sans, sans-serif" font-size="13.8" font-weight="normal" text-anchor="start" fill="#000" textLength="32.1" lengthAdjust="spacingAndGlyphs" stroke="#000" stroke-width="0.22">EPIm</text>
</svg>
</body></html>
